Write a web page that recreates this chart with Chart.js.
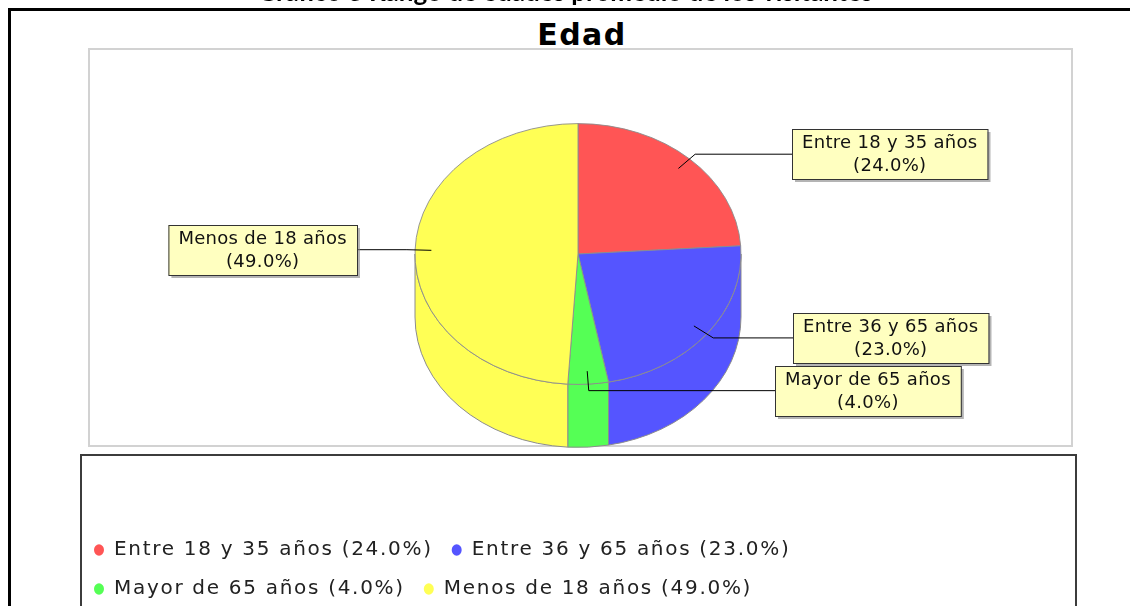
<!DOCTYPE html>
<html>
<head>
<meta charset="utf-8">
<script src="https://cdn.jsdelivr.net/npm/chart.js@4/dist/chart.umd.min.js"></script>
<style>
  html, body { margin: 0; padding: 0; background: #fff; overflow: hidden; }
  body { width: 1130px; height: 606px; position: relative; }
  .frame { position: absolute; left: 8px; top: 8px; width: 1200px; height: 700px; border: 3px solid #000; background: #fff; }
  .caption { position: absolute; left: 0; top: -22px; width: 1130px; text-align: center; font: bold 26px/26px Lato, sans-serif; color: #000; z-index: 2; }
  .plotbox { position: absolute; left: 88px; top: 48px; width: 981px; height: 395px; border: 2px solid #d2d2d2; }
  .legendbox { position: absolute; left: 80px; top: 454px; width: 993px; height: 300px; border: 2px solid #3c3c3c; }
  .title { position: absolute; left: 88px; top: 18px; width: 988px; text-align: center; font: bold 30px/34px "DejaVu Sans", sans-serif; letter-spacing: 1.5px; color: #000; }
  canvas { position: absolute; left: 0; top: 0; z-index: 1; }
</style>
</head>
<body>
<div class="frame"></div>
<div class="caption">Gráfico 3 Rango de edades promedio de los visitantes</div>
<div class="plotbox"></div>
<div class="legendbox"></div>
<div class="title">Edad</div>
<canvas id="edadChart" width="1130" height="606"></canvas>
<script>
// datos del gráfico
const categories = ['Entre 18 y 35 años', 'Entre 36 y 65 años', 'Mayor de 65 años', 'Menos de 18 años'];
const shares = [24, 23, 4, 49];
const sliceColors = ['#ff5555', '#5555ff', '#55ff55', '#ffff55'];

// x del borde de cada etiqueta (lado izquierdo para las de la derecha y al revés)
const calloutEdges = [792, 793, 775, 357];

const TILT = 0.8;   // aplastado vertical del pastel
const DEPTH = 63;   // grosor del cilindro

const total = shares.reduce((a, b) => a + b, 0);
const pct = i => (shares[i] / total * 100).toFixed(1) + '%';

const pie3d = {
    id: 'pie3d',
    beforeDraw(chart) {
        chart.ctx.letterSpacing = '1.7px'; // para la leyenda
    },
    beforeDatasetsDraw(chart) {
        const ctx = chart.ctx;
        const arcs = chart.getDatasetMeta(0).data;
        const { x, y, outerRadius: r } = arcs[0];
        // paredes laterales (solo la mitad frontal)
        ctx.save();
        ctx.lineWidth = 1;
        ctx.strokeStyle = '#8c8c8c';
        arcs.forEach(arc => {
            for (const k of [-2 * Math.PI, 0, 2 * Math.PI]) {
                const a = Math.max(arc.startAngle + k, 0);
                const b = Math.min(arc.endAngle + k, Math.PI);
                if (b <= a) continue;
                ctx.beginPath();
                ctx.ellipse(x, y, r, r * TILT, 0, a, b);
                ctx.ellipse(x, y + DEPTH, r, r * TILT, 0, b, a, true);
                ctx.closePath();
                ctx.fillStyle = arc.options.backgroundColor;
                ctx.fill();
                ctx.stroke();
            }
        });
        ctx.restore();
        // la cara superior se dibuja aplastada
        ctx.save();
        ctx.translate(x, y);
        ctx.scale(1, TILT);
        ctx.translate(-x, -y);
    },
    afterDatasetsDraw(chart) {
        const ctx = chart.ctx;
        ctx.restore();
        const arcs = chart.getDatasetMeta(0).data;
        const { x, y, outerRadius: r } = arcs[0];
        ctx.save();
        ctx.font = '18px "DejaVu Sans"';
        ctx.letterSpacing = '0.3px';
        arcs.forEach((arc, i) => {
            const mid = (arc.startAngle + arc.endAngle) / 2;
            const c = Math.cos(mid), s = Math.sin(mid);
            const ax = x + 0.9 * r * c, ay = y + 0.9 * r * TILT * s;
            const ex = x + 1.05 * r * c, ey = y + 1.05 * r * TILT * s;
            const lines = [categories[i], '(' + pct(i) + ')'];
            const w = Math.max(...lines.map(t => ctx.measureText(t).width)) + 20;
            const h = 50;
            const right = c >= 0;
            const bx = right ? calloutEdges[i] : calloutEdges[i] - w;
            const by = Math.round(ey - h / 2);

            ctx.strokeStyle = '#000';
            ctx.lineWidth = 1;
            ctx.beginPath();
            ctx.moveTo(ax, ay);
            ctx.lineTo(ex, ey);
            ctx.lineTo(right ? bx : bx + w, ey);
            ctx.stroke();

            ctx.fillStyle = 'rgba(130,130,130,0.6)';
            ctx.fillRect(bx + 3, by + 3, w, h);
            ctx.fillStyle = '#ffffc0';
            ctx.fillRect(bx, by, w, h);
            ctx.strokeStyle = '#333';
            ctx.strokeRect(bx + 0.5, by + 0.5, w, h);

            ctx.fillStyle = '#111';
            ctx.textAlign = 'center';
            ctx.textBaseline = 'alphabetic';
            ctx.fillText(lines[0], bx + w / 2, by + 19);
            ctx.fillText(lines[1], bx + w / 2, by + 42);
        });
        ctx.restore();
    }
};

new Chart(document.getElementById('edadChart'), {
    type: 'pie',
    data: {
        labels: categories,
        datasets: [{
            data: shares,
            backgroundColor: sliceColors,
            borderColor: '#8c8c8c',
            borderWidth: 1,
            radius: 163,
            clip: false
        }]
    },
    options: {
        responsive: false,
        devicePixelRatio: 1,
        animation: false,
        events: [],
        layout: { padding: { left: 75, right: 49, top: 91, bottom: -3 } },
        plugins: {
            title: { display: false },
            tooltip: { enabled: false },
            legend: {
                position: 'bottom',
                align: 'start',
                title: { display: true, text: ' ', font: { size: 10, lineHeight: 1 }, padding: { top: 0, bottom: 94 } },
                labels: {
                    usePointStyle: true,
                    pointStyle: 'circle',
                    pointStyleWidth: 10,
                    boxHeight: 8,
                    padding: 19,
                    color: '#222',
                    font: { family: 'DejaVu Sans', size: 20 },
                    generateLabels() {
                        return categories.map((c, i) => ({
                            text: c + ' (' + pct(i) + ')',
                            fillStyle: sliceColors[i],
                            strokeStyle: sliceColors[i],
                            fontColor: '#222',
                            lineWidth: 0,
                            pointStyle: 'circle',
                            hidden: false,
                            index: i
                        }));
                    }
                }
            }
        }
    },
    plugins: [pie3d]
});
</script>
</body>
</html>
